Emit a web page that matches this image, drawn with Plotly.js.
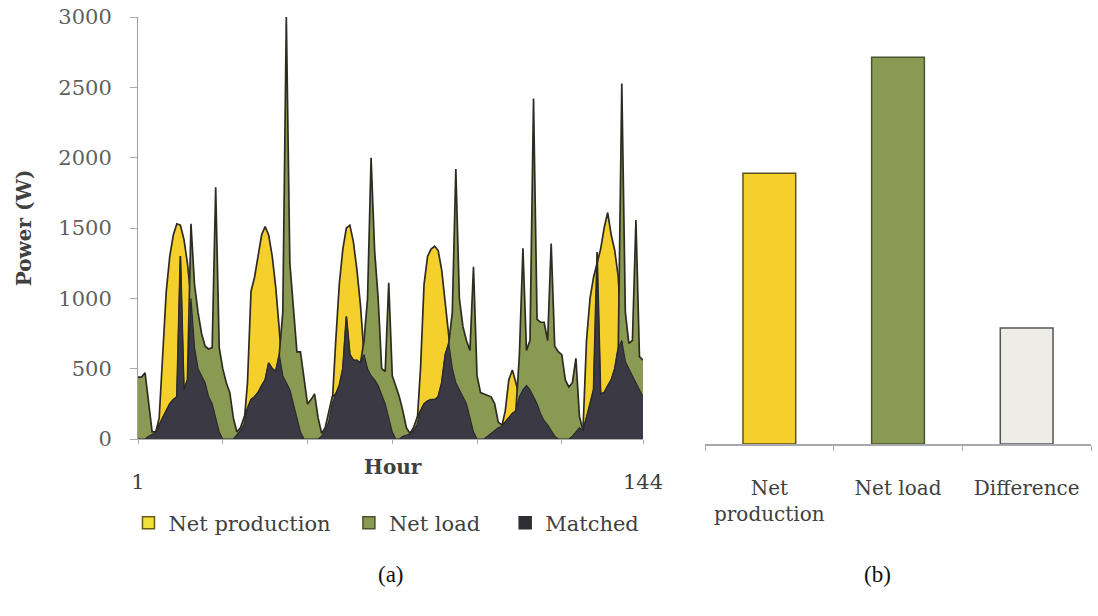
<!DOCTYPE html>
<html>
<head>
<meta charset="utf-8">
<script src="https://cdn.plot.ly/plotly-3.0.1.min.js"></script>
<style>html,body{margin:0;padding:0;background:#fff;}#chart{width:1098px;height:616px;}</style>
</head>
<body>
<div id="chart"></div>
<script>
// Hours 1..144
const hours = Array.from({length: 144}, (_, i) => i + 1);

// Net production (W) per hour
const netProduction = [
  0,0,0,20,30,45,150,650,1050,1300,1450,1530,1520,1420,1250,1000,650,500,450,400,300,250,150,50,
  0,0,0,0,30,60,100,400,1050,1150,1300,1450,1510,1450,1300,1080,780,450,400,350,250,150,50,0,
  0,0,0,0,20,60,120,250,700,1100,1350,1500,1520,1400,1200,950,600,500,450,420,380,320,250,150,
  50,0,0,20,30,35,60,100,500,1100,1300,1350,1370,1340,1200,950,700,500,400,350,300,250,150,50,
  0,0,0,20,40,60,80,90,200,420,490,400,300,350,380,350,300,250,180,130,100,60,20,0,
  0,0,0,20,50,80,60,700,1000,1150,1250,1350,1500,1610,1450,1340,1150,700,550,500,450,400,350,300
];

// Net load (W) per hour
const netLoad = [
  440,440,470,250,50,50,100,150,200,250,280,300,1300,350,420,1530,1100,900,750,660,640,650,1790,650,
  500,400,330,150,50,80,150,220,280,300,330,380,420,540,500,480,600,900,3000,1250,950,620,620,450,
  250,280,320,150,40,80,200,300,320,380,500,870,600,560,560,540,700,1000,2000,1340,1000,500,480,1110,
  450,380,300,200,80,40,80,150,200,250,270,280,280,300,400,600,680,900,1920,1000,800,700,630,1225,
  450,330,320,310,300,250,120,100,120,150,180,200,600,1355,630,700,2420,850,830,830,700,1390,660,620,
  600,420,370,400,573,160,64,150,250,350,1330,320,330,380,420,500,650,2528,900,680,700,1557,585,560
];

// Matched (W) per hour
const matched = [
  0,0,0,20,30,45,100,150,200,250,280,300,1300,350,420,1000,650,500,450,400,300,250,150,50,
  0,0,0,0,30,60,100,220,280,300,330,380,420,540,500,480,600,450,400,350,250,150,50,0,
  0,0,0,0,20,60,120,250,320,380,500,870,600,560,560,540,600,500,450,420,380,320,250,150,
  50,0,0,20,30,35,60,100,200,250,270,280,280,300,400,600,680,500,400,350,300,250,150,50,
  0,0,0,20,40,60,80,90,120,150,180,200,300,350,380,350,300,250,180,130,100,60,20,0,
  0,0,0,20,50,80,60,150,250,350,1250,320,330,380,420,500,650,700,550,500,450,400,350,300
];

const hourTickVals = [1, 25, 49, 73, 97, 121, 144];
const hourTickText = ['1', '', '', '', '', '', '144'];
const powerTickVals = [0, 500, 1000, 1500, 2000, 2500, 3000];

// Panel (b)
const totalsCategories = ['Net<br>production', 'Net load', 'Difference'];
const totalsValues = [1925, 2750, 825];

const cYellow = '#F5CF2C';
const cGreen = '#8A9A52';
const cDark = '#3B3A44';
const cLight = '#EDECE7';
const outline = '#2E2C22';

const serif = 'DejaVu Serif, Liberation Serif, serif';
const nb = '\u00a0';

const traces = [
  {x: hours, y: netProduction, type: 'scatter', mode: 'lines', fill: 'tozeroy',
   fillcolor: cYellow, line: {color: outline, width: 1.7}, showlegend: false, xaxis: 'x', yaxis: 'y'},
  {x: hours, y: netLoad, type: 'scatter', mode: 'lines', fill: 'tozeroy',
   fillcolor: cGreen, line: {color: outline, width: 1.7}, showlegend: false, xaxis: 'x', yaxis: 'y'},
  {x: hours, y: matched, type: 'scatter', mode: 'lines', fill: 'tozeroy',
   fillcolor: cDark, line: {color: '#2a2a30', width: 1.2}, showlegend: false, xaxis: 'x', yaxis: 'y'},
  // legend entries
  {x: [null], y: [null], type: 'bar', name: 'Net production' + nb + nb, xaxis: 'x', yaxis: 'y',
   marker: {color: '#EFE23A', line: {color: '#6B5B10', width: 1.5}}},
  {x: [null], y: [null], type: 'bar', name: 'Net load' + nb + nb + nb, xaxis: 'x', yaxis: 'y',
   marker: {color: cGreen, line: {color: '#4A5430', width: 1.5}}},
  {x: [null], y: [null], type: 'bar', name: 'Matched', xaxis: 'x', yaxis: 'y',
   marker: {color: '#2E2E34', line: {color: '#2E2E34', width: 1.5}}},
  // panel (b)
  {x: totalsCategories, y: totalsValues, type: 'bar', showlegend: false, xaxis: 'x2', yaxis: 'y2',
   marker: {color: [cYellow, cGreen, cLight], line: {color: ['#5E5020', '#4A5430', '#555555'], width: 1.5}}}
];

const W = 1098, H = 616;
const layout = {
  width: W, height: H,
  margin: {l: 0, r: 0, t: 0, b: 0},
  paper_bgcolor: '#ffffff', plot_bgcolor: 'rgba(0,0,0,0)',
  font: {family: serif, color: '#505050'},
  showlegend: true,
  legend: {orientation: 'h', x: 0.117, xanchor: 'left', y: 0.184, yanchor: 'top',
           font: {family: serif, size: 21, color: '#404040'}, bgcolor: 'rgba(0,0,0,0)',
           traceorder: 'normal', itemwidth: 30},
  xaxis: {domain: [138 / W, 643 / W], range: [1, 144], anchor: 'y',
          tickmode: 'array', tickvals: hourTickVals, ticktext: hourTickText,
          ticks: 'outside', ticklen: 4, tickcolor: '#aaaaaa', tickwidth: 1,
          showline: true, linecolor: '#b0b0b0', linewidth: 1, showgrid: false, zeroline: false,
          tickfont: {family: serif, size: 21, color: '#404040'}, ticklabelstandoff: 20},
  yaxis: {domain: [(H - 439) / H, (H - 17) / H], range: [0, 3000], anchor: 'x',
          tickmode: 'array', tickvals: powerTickVals,
          ticks: 'outside', ticklen: 7, tickcolor: '#aaaaaa', tickwidth: 1,
          showline: true, linecolor: '#a0a0a0', linewidth: 1, showgrid: false, zeroline: false,
          tickfont: {family: serif, size: 21, color: '#606060'}, ticklabelstandoff: 14,
          title: {text: '<b>Power (W)</b>', font: {family: serif, size: 20, color: '#404040'}, standoff: 21}},
  xaxis2: {domain: [705 / W, 1091 / W], anchor: 'y2', type: 'category',
           ticks: 'outside', tickson: 'boundaries', ticklen: 5, tickcolor: '#aaaaaa',
           showline: true, linecolor: '#a8a8b0', linewidth: 1.5, showgrid: false,
           tickfont: {family: serif, size: 20, color: '#404040'}, ticklabelstandoff: 25},
  yaxis2: {domain: [(H - 444) / H, (H - 22) / H], range: [0, 3000], anchor: 'x2',
           visible: false, showgrid: false, zeroline: false},
  bargap: 0.59,
  annotations: [
    {text: '<b>Hour</b>', x: 393 / W, y: (H - 481) / H, xref: 'paper', yref: 'paper', showarrow: false,
     font: {family: serif, size: 20, color: '#404040'}},
    {text: '(a)', x: 391 / W, y: (H - 589) / H, xref: 'paper', yref: 'paper', showarrow: false,
     font: {family: 'Liberation Serif, serif', size: 23, color: '#111111'}},
    {text: '(b)', x: 893 / W, y: (H - 589) / H, xref: 'paper', yref: 'paper', showarrow: false,
     font: {family: 'Liberation Serif, serif', size: 23, color: '#111111'}}
  ]
};

Plotly.newPlot('chart', traces, layout, {displayModeBar: false, staticPlot: true});
</script>
</body>
</html>
